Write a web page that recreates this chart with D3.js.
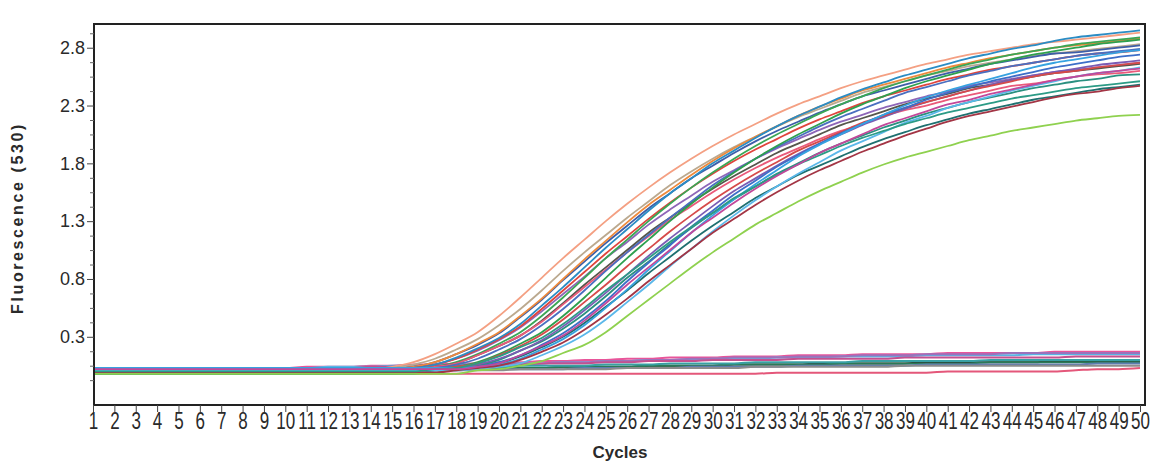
<!DOCTYPE html>
<html>
<head>
<meta charset="utf-8">
<script src="https://cdn.jsdelivr.net/npm/d3@7"></script>
<style>
  body { margin: 0; background: #fff; }
  #plot text { font-family: "Liberation Sans", Arial, sans-serif; fill: #2a2a2a; }
</style>
</head>
<body>
<div id="plot"></div>
<script>
// Chart size
const width = 1157;
const height = 466;

// Cycle numbers (x categories / tick labels)
const cycles = [1,2,3,4,5,6,7,8,9,10,11,12,13,14,15,16,17,18,19,20,21,22,23,24,25,
  26,27,28,29,30,31,32,33,34,35,36,37,38,39,40,41,42,43,44,45,46,47,48,49,50];

// Labelled y ticks
const yTicks = [0.3, 0.8, 1.3, 1.8, 2.3, 2.8];

// Amplification curves, fluorescence per cycle
const posCurves = [
  [0.02,0.02,0.02,0.02,0.02,0.02,0.02,0.02,0.02,0.02,
   0.02,0.02,0.02,0.02,0.04,0.08,0.15,0.24,0.34,0.48,
   0.64,0.81,0.98,1.14,1.30,1.45,1.59,1.72,1.84,1.95,
   2.05,2.14,2.23,2.31,2.38,2.45,2.51,2.56,2.61,2.66,
   2.70,2.74,2.77,2.80,2.83,2.85,2.87,2.89,2.91,2.93],
  [0.01,0.01,0.01,0.01,0.01,0.01,0.01,0.01,0.01,0.01,
   0.01,0.01,0.01,0.01,0.03,0.06,0.11,0.19,0.28,0.40,
   0.54,0.70,0.87,1.03,1.18,1.33,1.47,1.61,1.73,1.84,
   1.94,2.03,2.12,2.20,2.27,2.34,2.41,2.46,2.51,2.56,
   2.60,2.64,2.67,2.70,2.73,2.75,2.77,2.79,2.81,2.83],
  [0.00,0.00,0.00,0.00,0.00,0.00,0.00,0.00,0.00,0.00,
   0.00,0.00,0.00,0.00,0.02,0.04,0.08,0.15,0.23,0.33,
   0.47,0.62,0.79,0.95,1.11,1.26,1.41,1.54,1.67,1.78,
   1.89,1.99,2.08,2.16,2.24,2.31,2.38,2.43,2.48,2.53,
   2.58,2.62,2.66,2.69,2.72,2.75,2.76,2.78,2.80,2.82],
  [0.01,0.01,0.01,0.01,0.01,0.01,0.01,0.01,0.01,0.01,
   0.01,0.01,0.01,0.01,0.02,0.04,0.08,0.15,0.24,0.34,
   0.48,0.63,0.80,0.97,1.13,1.29,1.44,1.57,1.70,1.82,
   1.93,2.03,2.12,2.21,2.29,2.36,2.43,2.48,2.53,2.58,
   2.63,2.67,2.71,2.74,2.77,2.80,2.82,2.84,2.86,2.88],
  [-0.01,-0.01,-0.01,-0.01,-0.01,-0.01,-0.01,-0.01,-0.01,-0.01,
   -0.01,-0.01,-0.01,-0.01,0.01,0.03,0.06,0.11,0.18,0.27,
   0.38,0.52,0.67,0.82,0.98,1.12,1.27,1.40,1.52,1.64,
   1.74,1.84,1.93,2.01,2.09,2.16,2.22,2.28,2.33,2.38,
   2.42,2.47,2.50,2.53,2.56,2.59,2.61,2.63,2.65,2.67],
  [0.01,0.01,0.01,0.01,0.01,0.01,0.01,0.01,0.01,0.01,
   0.01,0.01,0.01,0.01,0.01,0.03,0.06,0.11,0.19,0.28,
   0.39,0.54,0.70,0.86,1.02,1.17,1.32,1.46,1.59,1.71,
   1.82,1.92,2.01,2.10,2.18,2.25,2.32,2.38,2.43,2.48,
   2.53,2.57,2.61,2.64,2.67,2.70,2.73,2.75,2.76,2.78],
  [-0.02,-0.02,-0.02,-0.02,-0.02,-0.02,-0.02,-0.02,-0.02,-0.02,
   -0.02,-0.02,-0.02,-0.02,-0.02,0.02,0.04,0.08,0.15,0.24,
   0.34,0.48,0.64,0.81,0.98,1.14,1.30,1.45,1.59,1.72,
   1.84,1.95,2.05,2.14,2.23,2.31,2.38,2.45,2.51,2.56,
   2.61,2.66,2.70,2.74,2.77,2.80,2.83,2.85,2.87,2.89],
  [0.02,0.02,0.02,0.02,0.02,0.02,0.02,0.02,0.02,0.02,
   0.02,0.02,0.02,0.02,0.02,0.03,0.06,0.12,0.20,0.29,
   0.41,0.57,0.73,0.90,1.07,1.23,1.39,1.54,1.67,1.80,
   1.91,2.02,2.12,2.21,2.29,2.37,2.44,2.50,2.56,2.61,
   2.66,2.71,2.75,2.79,2.82,2.86,2.89,2.91,2.93,2.95],
  [0.00,0.00,0.00,0.00,0.00,0.00,0.00,0.00,0.00,0.00,
   0.00,0.00,0.00,0.00,0.00,0.02,0.04,0.07,0.14,0.22,
   0.31,0.44,0.59,0.75,0.90,1.05,1.20,1.33,1.46,1.58,
   1.69,1.79,1.89,1.97,2.05,2.13,2.19,2.25,2.31,2.36,
   2.40,2.45,2.48,2.52,2.55,2.58,2.60,2.62,2.64,2.66],
  [-0.01,-0.01,-0.01,-0.01,-0.01,-0.01,-0.01,-0.01,-0.01,-0.01,
   -0.01,-0.01,-0.01,-0.01,-0.01,0.02,0.04,0.07,0.14,0.22,
   0.31,0.43,0.58,0.73,0.88,1.03,1.17,1.31,1.43,1.55,
   1.66,1.76,1.85,1.93,2.01,2.08,2.14,2.21,2.26,2.30,
   2.35,2.39,2.43,2.47,2.49,2.52,2.55,2.57,2.58,2.60],
  [0.01,0.01,0.01,0.01,0.01,0.01,0.01,0.01,0.01,0.01,
   0.01,0.01,0.01,0.01,0.01,0.01,0.03,0.06,0.11,0.19,
   0.28,0.40,0.54,0.70,0.87,1.03,1.18,1.33,1.47,1.61,
   1.73,1.84,1.94,2.03,2.12,2.20,2.27,2.34,2.41,2.46,
   2.51,2.56,2.60,2.64,2.67,2.70,2.73,2.75,2.77,2.79],
  [0.00,0.00,0.00,0.00,0.00,0.00,0.00,0.00,0.00,0.00,
   0.00,0.00,0.00,0.00,0.00,0.00,0.02,0.04,0.08,0.15,
   0.24,0.34,0.48,0.64,0.81,0.98,1.14,1.30,1.45,1.59,
   1.72,1.84,1.95,2.05,2.14,2.23,2.31,2.38,2.45,2.51,
   2.56,2.61,2.66,2.70,2.74,2.77,2.80,2.83,2.85,2.87],
  [-0.02,-0.02,-0.02,-0.02,-0.02,-0.02,-0.02,-0.02,-0.02,-0.02,
   -0.02,-0.02,-0.02,-0.02,-0.02,-0.02,0.01,0.03,0.05,0.10,
   0.18,0.26,0.37,0.50,0.65,0.81,0.95,1.10,1.24,1.37,
   1.49,1.60,1.71,1.80,1.89,1.97,2.04,2.11,2.17,2.23,
   2.28,2.33,2.37,2.41,2.45,2.48,2.51,2.53,2.56,2.57],
  [0.01,0.01,0.01,0.01,0.01,0.01,0.01,0.01,0.01,0.01,
   0.01,0.01,0.01,0.01,0.01,0.01,0.01,0.03,0.06,0.11,
   0.18,0.27,0.39,0.53,0.68,0.84,1.00,1.15,1.29,1.43,
   1.56,1.67,1.78,1.88,1.97,2.05,2.13,2.20,2.27,2.33,
   2.38,2.43,2.48,2.52,2.56,2.59,2.62,2.65,2.67,2.69],
  [0.00,0.00,0.00,0.00,0.00,0.00,0.00,0.00,0.00,0.00,
   0.00,0.00,0.00,0.00,0.00,0.00,0.02,0.04,0.07,0.14,
   0.22,0.32,0.45,0.60,0.75,0.91,1.06,1.21,1.35,1.48,
   1.60,1.71,1.81,1.91,1.99,2.07,2.15,2.21,2.28,2.33,
   2.38,2.43,2.47,2.51,2.55,2.58,2.60,2.63,2.65,2.67],
  [-0.01,-0.01,-0.01,-0.01,-0.01,-0.01,-0.01,-0.01,-0.01,-0.01,
   -0.01,-0.01,-0.01,-0.01,-0.01,-0.01,-0.01,0.02,0.03,0.07,
   0.13,0.21,0.30,0.42,0.56,0.70,0.85,0.99,1.13,1.26,
   1.38,1.50,1.60,1.70,1.78,1.86,1.94,2.01,2.07,2.13,
   2.18,2.23,2.27,2.31,2.35,2.38,2.41,2.44,2.46,2.48],
  [0.02,0.02,0.02,0.02,0.02,0.02,0.02,0.02,0.02,0.02,
   0.02,0.02,0.02,0.02,0.02,0.02,0.02,0.02,0.04,0.08,
   0.14,0.23,0.33,0.46,0.61,0.78,0.94,1.09,1.25,1.39,
   1.53,1.65,1.77,1.87,1.97,2.06,2.14,2.22,2.28,2.35,
   2.41,2.46,2.51,2.55,2.59,2.63,2.66,2.69,2.72,2.74],
  [0.03,0.03,0.03,0.03,0.03,0.03,0.03,0.03,0.03,0.03,
   0.03,0.03,0.03,0.03,0.03,0.03,0.03,0.03,0.04,0.06,
   0.11,0.19,0.28,0.40,0.55,0.71,0.88,1.04,1.20,1.35,
   1.49,1.62,1.74,1.86,1.96,2.05,2.14,2.22,2.30,2.37,
   2.43,2.48,2.53,2.58,2.63,2.67,2.70,2.73,2.76,2.78],
  [0.01,0.01,0.01,0.01,0.01,0.01,0.01,0.01,0.01,0.01,
   0.01,0.01,0.01,0.01,0.01,0.01,0.01,0.01,0.02,0.04,
   0.07,0.14,0.22,0.32,0.45,0.60,0.75,0.91,1.06,1.21,
   1.35,1.48,1.60,1.71,1.81,1.91,1.99,2.07,2.15,2.21,
   2.28,2.33,2.38,2.43,2.47,2.51,2.55,2.58,2.60,2.63],
  [-0.01,-0.01,-0.01,-0.01,-0.01,-0.01,-0.01,-0.01,-0.01,-0.01,
   -0.01,-0.01,-0.01,-0.01,-0.01,-0.01,-0.01,0.01,0.03,0.05,
   0.10,0.17,0.25,0.36,0.49,0.63,0.78,0.92,1.06,1.20,
   1.32,1.44,1.55,1.65,1.74,1.82,1.90,1.97,2.04,2.10,
   2.16,2.21,2.25,2.29,2.33,2.37,2.40,2.42,2.45,2.47],
  [0.00,0.00,0.00,0.00,0.00,0.00,0.00,0.00,0.00,0.00,
   0.00,0.00,0.00,0.00,0.00,0.00,0.02,0.03,0.07,0.13,
   0.21,0.29,0.41,0.55,0.70,0.84,0.98,1.12,1.25,1.37,
   1.50,1.60,1.70,1.79,1.87,1.95,2.02,2.08,2.14,2.19,
   2.24,2.28,2.32,2.36,2.39,2.42,2.45,2.47,2.49,2.51],
  [0.02,0.02,0.02,0.02,0.02,0.02,0.02,0.02,0.02,0.02,
   0.02,0.02,0.02,0.02,0.02,0.02,0.02,0.02,0.04,0.07,
   0.14,0.22,0.31,0.44,0.59,0.75,0.90,1.05,1.20,1.33,
   1.46,1.58,1.69,1.79,1.89,1.97,2.05,2.13,2.19,2.25,
   2.31,2.35,2.40,2.44,2.48,2.52,2.55,2.58,2.60,2.62],
  [-0.02,-0.02,-0.02,-0.02,-0.02,-0.02,-0.02,-0.02,-0.02,-0.02,
   -0.02,-0.02,-0.02,-0.02,-0.02,-0.02,-0.02,-0.02,0.01,0.02,
   0.05,0.09,0.16,0.23,0.34,0.48,0.62,0.76,0.90,1.03,
   1.15,1.27,1.37,1.47,1.56,1.64,1.72,1.79,1.85,1.90,
   1.95,2.00,2.04,2.08,2.11,2.14,2.17,2.19,2.21,2.22]
];
const posColors = ["#f4a083", "#bba98f", "#3d5ea8", "#ee8a3c", "#8e66b8", "#e0443c",
  "#3aa655", "#2b8cc4", "#56564c", "#ea5a7a", "#4a6fc0", "#2ea04e", "#2a9080",
  "#7a5cb4", "#d64a4a", "#1f7070", "#3d6ec8", "#36a2e0", "#5bb8ea", "#a33545",
  "#2c9b86", "#c2489a", "#8fd14f"];

// Flat (negative) curves
const negCurves = [
  [0.00,0.00,0.01,0.01,0.01,0.02,0.02,0.02,0.03,0.03,
   0.04,0.04,0.04,0.05,0.05,0.06,0.06,0.07,0.07,0.08,
   0.08,0.09,0.09,0.10,0.10,0.11,0.11,0.12,0.12,0.12,
   0.13,0.13,0.13,0.14,0.14,0.14,0.15,0.15,0.15,0.15,
   0.16,0.16,0.16,0.16,0.16,0.17,0.17,0.17,0.17,0.17],
  [0.01,0.01,0.01,0.01,0.02,0.02,0.02,0.02,0.03,0.03,
   0.03,0.04,0.04,0.04,0.05,0.05,0.05,0.06,0.06,0.07,
   0.07,0.07,0.08,0.08,0.09,0.09,0.10,0.10,0.10,0.11,
   0.11,0.11,0.12,0.12,0.12,0.13,0.13,0.13,0.13,0.14,
   0.14,0.14,0.14,0.14,0.15,0.15,0.15,0.15,0.15,0.15],
  [-0.01,-0.01,0.00,0.00,0.00,0.01,0.01,0.01,0.02,0.02,
   0.02,0.03,0.03,0.03,0.04,0.04,0.05,0.05,0.06,0.06,
   0.07,0.07,0.08,0.08,0.09,0.09,0.10,0.10,0.11,0.11,
   0.12,0.12,0.12,0.13,0.13,0.13,0.14,0.14,0.14,0.15,
   0.15,0.15,0.15,0.16,0.16,0.16,0.16,0.16,0.16,0.16],
  [0.00,0.00,0.00,0.00,0.00,0.00,0.01,0.01,0.01,0.01,
   0.01,0.01,0.02,0.02,0.02,0.02,0.02,0.03,0.03,0.03,
   0.03,0.03,0.04,0.04,0.04,0.04,0.05,0.05,0.05,0.05,
   0.06,0.06,0.06,0.06,0.07,0.07,0.07,0.07,0.07,0.08,
   0.08,0.08,0.08,0.08,0.08,0.09,0.09,0.09,0.09,0.09],
  [-0.01,-0.01,-0.01,0.00,0.00,0.00,0.00,0.00,0.01,0.01,
   0.01,0.01,0.01,0.02,0.02,0.02,0.02,0.02,0.03,0.03,
   0.03,0.03,0.04,0.04,0.04,0.04,0.05,0.05,0.05,0.05,
   0.06,0.06,0.06,0.06,0.06,0.07,0.07,0.07,0.07,0.07,
   0.07,0.07,0.08,0.08,0.08,0.08,0.08,0.08,0.08,0.08],
  [0.00,0.00,0.00,0.00,0.00,-0.01,-0.01,-0.01,-0.01,0.00,
   0.00,0.00,0.00,0.01,0.01,0.01,0.01,0.01,0.02,0.02,
   0.02,0.02,0.02,0.03,0.03,0.03,0.03,0.03,0.04,0.04,
   0.04,0.04,0.04,0.05,0.05,0.05,0.05,0.05,0.05,0.06,
   0.06,0.06,0.06,0.06,0.06,0.06,0.06,0.07,0.07,0.07],
  [0.00,0.00,0.00,0.00,-0.01,-0.01,-0.01,-0.01,-0.01,-0.01,
   -0.01,-0.01,-0.02,-0.02,-0.02,-0.02,-0.02,-0.02,-0.02,-0.02,
   -0.02,-0.02,-0.02,-0.02,-0.02,-0.02,-0.02,-0.02,-0.02,-0.02,
   -0.02,-0.02,-0.01,-0.01,-0.01,-0.01,-0.01,-0.01,-0.01,-0.01,
   0.00,0.00,0.00,0.00,0.00,0.00,0.01,0.02,0.02,0.03],
  [0.00,0.00,0.00,0.01,0.01,0.01,0.01,0.02,0.02,0.02,
   0.03,0.03,0.03,0.04,0.04,0.04,0.05,0.05,0.05,0.06,
   0.06,0.07,0.07,0.07,0.08,0.08,0.09,0.09,0.09,0.10,
   0.10,0.10,0.10,0.11,0.11,0.11,0.11,0.11,0.12,0.12,
   0.12,0.12,0.12,0.12,0.12,0.12,0.13,0.13,0.13,0.13],
  [-0.01,-0.01,-0.01,-0.01,-0.01,0.00,0.00,0.00,0.00,0.00,
   0.00,0.00,0.00,0.00,0.01,0.01,0.01,0.01,0.01,0.01,
   0.02,0.02,0.02,0.02,0.02,0.03,0.03,0.03,0.03,0.03,
   0.03,0.04,0.04,0.04,0.04,0.04,0.04,0.04,0.05,0.05,
   0.05,0.05,0.05,0.05,0.05,0.05,0.05,0.05,0.05,0.05],
  [0.00,0.00,0.00,0.00,0.01,0.01,0.01,0.01,0.01,0.02,
   0.02,0.02,0.02,0.03,0.03,0.03,0.03,0.04,0.04,0.04,
   0.05,0.05,0.05,0.05,0.06,0.06,0.06,0.07,0.07,0.07,
   0.07,0.08,0.08,0.08,0.08,0.08,0.09,0.09,0.09,0.09,
   0.09,0.09,0.10,0.10,0.10,0.10,0.10,0.10,0.10,0.10]
];
const negColors = ["#e8559a", "#5ab4e4", "#9c72bb", "#2a2a2a", "#2b7a57",
  "#5c7db0", "#e4577a", "#c4508f", "#8c8c8c", "#38a0a4"];

// Plot area
const plotLeft = 94, plotRight = 1145, plotTop = 24, plotBottom = 405;

const x = d3.scaleLinear().domain([1, 50]).range([93, 1140]);
const y = d3.scaleLinear().domain([-0.29, 3.0]).range([plotBottom, 24.6]);

const svg = d3.select("#plot")
  .append("svg")
  .attr("width", width)
  .attr("height", height);

// Clip the curves to the frame
svg.append("clipPath").attr("id", "clip")
  .append("rect")
  .attr("x", plotLeft).attr("y", plotTop)
  .attr("width", plotRight - plotLeft).attr("height", plotBottom - plotTop);

const line = d3.line()
  .x((d, i) => x(cycles[i]))
  .y(d => y(d))
  .curve(d3.curveMonotoneX);

const curves = svg.append("g").attr("clip-path", "url(#clip)");

curves.selectAll("path.neg")
  .data(negCurves)
  .enter().append("path")
  .attr("class", "neg")
  .attr("d", line)
  .attr("fill", "none")
  .attr("stroke", (d, i) => negColors[i])
  .attr("stroke-width", 2);

curves.selectAll("path.pos")
  .data(posCurves)
  .enter().append("path")
  .attr("class", "pos")
  .attr("d", line)
  .attr("fill", "none")
  .attr("stroke", (d, i) => posColors[i])
  .attr("stroke-width", 1.8);

// Frame
svg.append("rect")
  .attr("x", plotLeft).attr("y", plotTop)
  .attr("width", plotRight - plotLeft).attr("height", plotBottom - plotTop)
  .attr("fill", "none")
  .attr("stroke", "#222")
  .attr("stroke-width", 2);

// X axis
const xAxis = svg.append("g")
  .attr("transform", `translate(0,${plotBottom})`)
  .call(d3.axisBottom(x).tickValues(cycles).tickSize(7).tickFormat(d3.format("d")));
xAxis.select(".domain").remove();
xAxis.selectAll("line").attr("stroke", "#444");
xAxis.selectAll("text")
  .attr("y", 8)
  .attr("dy", "0.71em")
  .attr("transform", "scale(0.74,1)")
  .style("font-size", "23px");

// Y axis, labelled ticks
const yAxis = svg.append("g")
  .attr("transform", `translate(${plotLeft},0)`)
  .call(d3.axisLeft(y).tickValues(yTicks).tickSize(7).tickFormat(d3.format(".1f")));
yAxis.select(".domain").remove();
yAxis.selectAll("line").attr("stroke", "#444");
yAxis.selectAll("text")
  .attr("x", -9)
  .style("font-size", "18px");

// Y axis, minor ticks
const yMinor = d3.range(-0.2, 3.0, 0.125).filter(v => Math.abs((v - 0.3) / 0.5 - Math.round((v - 0.3) / 0.5)) > 0.01);
const yMinorAxis = svg.append("g")
  .attr("transform", `translate(${plotLeft},0)`)
  .call(d3.axisLeft(y).tickValues(yMinor).tickSize(4).tickFormat(""));
yMinorAxis.select(".domain").remove();
yMinorAxis.selectAll("line").attr("stroke", "#666");

// Axis titles
svg.append("text")
  .attr("x", 620).attr("y", 458)
  .attr("text-anchor", "middle")
  .style("font-size", "17px")
  .style("font-weight", "bold")
  .text("Cycles");

svg.append("text")
  .attr("transform", "translate(23,218) rotate(-90)")
  .attr("text-anchor", "middle")
  .style("font-size", "16px")
  .style("font-weight", "bold")
  .style("letter-spacing", "2.6px")
  .text("Fluorescence (530)");
</script>
</body>
</html>
